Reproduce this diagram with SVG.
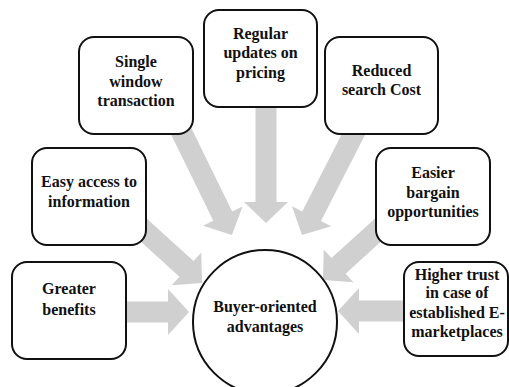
<svg xmlns="http://www.w3.org/2000/svg" width="509" height="387" viewBox="0 0 509 387">
  <style>
    .box { fill: #ffffff; stroke: #111111; stroke-width: 2; }
    .hub { fill: #ffffff; stroke: #111111; stroke-width: 2; }
    .arrow { fill: #d0d0d0; stroke: none; }
    .label { font-family: "Liberation Serif", "Times New Roman", serif; font-weight: bold; font-size: 16px; fill: #111111; text-anchor: middle; }
  </style>
  <rect width="509" height="387" fill="#ffffff"/>

  <!-- block arrows: tip at local origin, pointing along +x -->
  <g id="connectors">
    <path class="arrow" transform="translate(266,223) rotate(90)" d="M -125,-10.5 H -21 V -22 L 0,0 L -21,22 V 10.5 H -125 Z"/>
    <path class="arrow" transform="translate(232,235) rotate(63.9)" d="M -122,-10.5 H -21 V -22 L 0,0 L -21,22 V 10.5 H -122 Z"/>
    <path class="arrow" transform="translate(302,235) rotate(117.1)" d="M -122,-10.5 H -21 V -22 L 0,0 L -21,22 V 10.5 H -122 Z"/>
    <path class="arrow" transform="translate(202,283) rotate(42.3)" d="M -90,-10.5 H -21 V -22 L 0,0 L -21,22 V 10.5 H -90 Z"/>
    <path class="arrow" transform="translate(323,280) rotate(137.7)" d="M -90,-10.5 H -21 V -22 L 0,0 L -21,22 V 10.5 H -90 Z"/>
    <path class="arrow" transform="translate(189,312)" d="M -70,-10.5 H -21 V -23 L 0,0 L -21,23 V 10.5 H -70 Z"/>
    <path class="arrow" transform="translate(338,311) rotate(180)" d="M -75,-10.5 H -21 V -23 L 0,0 L -21,23 V 10.5 H -75 Z"/>
  </g>

  <g id="single-window">
    <rect class="box" x="79" y="37" width="114" height="97" rx="15"/>
    <text class="label" x="136" y="67">Single</text>
    <text class="label" x="136" y="87">window</text>
    <text class="label" x="136" y="106">transaction</text>
  </g>

  <g id="regular-updates">
    <rect class="box" x="204" y="10" width="113" height="97" rx="15"/>
    <text class="label" x="260.5" y="39">Regular</text>
    <text class="label" x="260.5" y="58">updates on</text>
    <text class="label" x="260.5" y="78">pricing</text>
  </g>

  <g id="reduced-search">
    <rect class="box" x="325" y="37" width="113" height="97" rx="15"/>
    <text class="label" x="381.5" y="76">Reduced</text>
    <text class="label" x="381.5" y="95">search Cost</text>
  </g>

  <g id="easy-access">
    <rect class="box" x="32" y="148" width="114" height="97" rx="15"/>
    <text class="label" x="89" y="187">Easy access to</text>
    <text class="label" x="89" y="207">information</text>
  </g>

  <g id="easier-bargain">
    <rect class="box" x="376" y="148" width="114" height="97" rx="15"/>
    <text class="label" x="433" y="178">Easier</text>
    <text class="label" x="433" y="198">bargain</text>
    <text class="label" x="433" y="217">opportunities</text>
  </g>

  <g id="greater-benefits">
    <rect class="box" x="12" y="262" width="114" height="97" rx="15"/>
    <text class="label" x="69" y="294">Greater</text>
    <text class="label" x="69" y="315">benefits</text>
  </g>

  <g id="higher-trust">
    <rect class="box" x="404" y="262" width="104" height="94" rx="15"/>
    <text class="label" x="457" y="280">Higher trust</text>
    <text class="label" x="457" y="298">in case of</text>
    <text class="label" x="457" y="318">established E-</text>
    <text class="label" x="457" y="337">marketplaces</text>
  </g>

  <g id="buyer-advantages">
    <circle class="hub" cx="265" cy="322" r="72"/>
    <text class="label" x="265" y="312">Buyer-oriented</text>
    <text class="label" x="265" y="332">advantages</text>
  </g>
</svg>
